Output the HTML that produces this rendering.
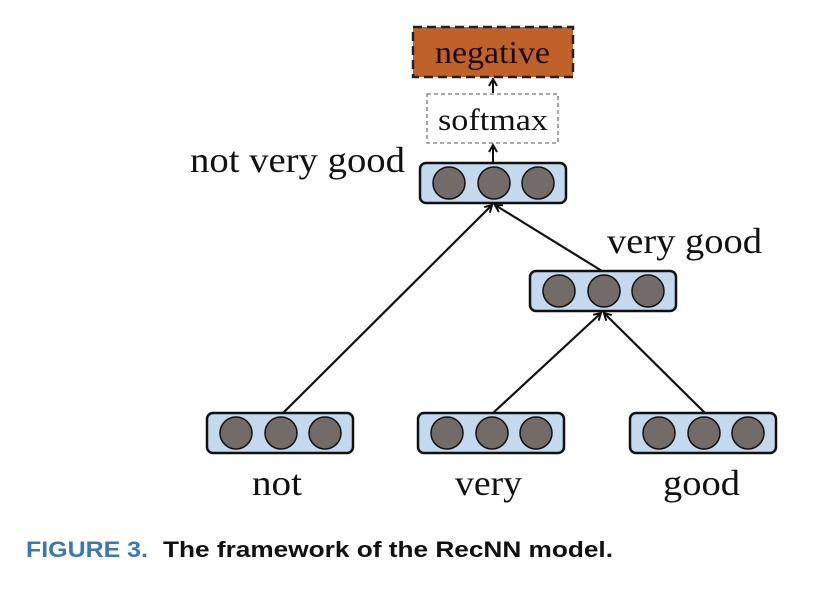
<!DOCTYPE html>
<html><head><style>body{margin:0;background:#fff;width:825px;height:589px;overflow:hidden}</style></head>
<body>
<svg width="825" height="589" xmlns="http://www.w3.org/2000/svg" font-family="Liberation Serif, serif">
<defs>
<g id="node">
<rect x="0" y="0" width="146" height="40" rx="6" fill="#c5d9ee" stroke="#111" stroke-width="2.5"/>
<circle cx="29" cy="20" r="16" fill="#726b68" stroke="#111" stroke-width="1.5"/>
<circle cx="74" cy="20" r="16" fill="#726b68" stroke="#111" stroke-width="1.5"/>
<circle cx="118" cy="20" r="16" fill="#726b68" stroke="#111" stroke-width="1.5"/>
</g>
<marker id="ar" markerWidth="10" markerHeight="10" refX="8" refY="5" orient="auto" markerUnits="userSpaceOnUse">
<path d="M1,1 L8,5 L1,9" fill="none" stroke="#111" stroke-width="2"/>
</marker>
</defs>
<rect x="413" y="27" width="160" height="50" fill="#c0612a" stroke="#222" stroke-width="2.5" stroke-dasharray="9,5"/>
<text x="435" y="63" font-size="32" textLength="115" lengthAdjust="spacingAndGlyphs" fill="#1a0a05">negative</text>
<rect x="427" y="94" width="131" height="49" fill="#fff" stroke="#777" stroke-width="1.3" stroke-dasharray="4,3"/>
<text x="438" y="130" font-size="31" textLength="110" lengthAdjust="spacingAndGlyphs" fill="#111">softmax</text>
<line x1="493" y1="93" x2="493" y2="79" stroke="#111" stroke-width="2" marker-end="url(#ar)"/>
<line x1="493" y1="163" x2="493" y2="145" stroke="#111" stroke-width="2" marker-end="url(#ar)"/>
<use href="#node" x="420" y="163"/>
<use href="#node" x="530" y="271"/>
<use href="#node" x="207" y="413"/>
<use href="#node" x="418" y="413"/>
<use href="#node" x="630" y="413"/>
<line x1="283" y1="413" x2="492" y2="205" stroke="#111" stroke-width="2.2" marker-end="url(#ar)"/>
<line x1="602" y1="271" x2="495" y2="205" stroke="#111" stroke-width="2.2" marker-end="url(#ar)"/>
<line x1="493" y1="413" x2="601" y2="313" stroke="#111" stroke-width="2.2" marker-end="url(#ar)"/>
<line x1="705" y1="413" x2="604" y2="313" stroke="#111" stroke-width="2.2" marker-end="url(#ar)"/>
<text x="190" y="172" font-size="36" textLength="215" lengthAdjust="spacingAndGlyphs" fill="#111">not very good</text>
<text x="607" y="253" font-size="36" textLength="155" lengthAdjust="spacingAndGlyphs" fill="#111">very good</text>
<text x="252" y="495" font-size="36" textLength="50" lengthAdjust="spacingAndGlyphs" fill="#111">not</text>
<text x="455" y="495" font-size="36" textLength="67" lengthAdjust="spacingAndGlyphs" fill="#111">very</text>
<text x="663" y="495" font-size="36" textLength="77" lengthAdjust="spacingAndGlyphs" fill="#111">good</text>
<text x="26" y="557" font-size="22" font-weight="bold" font-family="Liberation Sans, sans-serif" textLength="122" lengthAdjust="spacingAndGlyphs" fill="#3a78b5">FIGURE 3.</text>
<text x="163" y="557" font-size="22" font-weight="bold" font-family="Liberation Sans, sans-serif" textLength="450" lengthAdjust="spacingAndGlyphs" fill="#111">The framework of the RecNN model.</text>
</svg>
</body></html>
